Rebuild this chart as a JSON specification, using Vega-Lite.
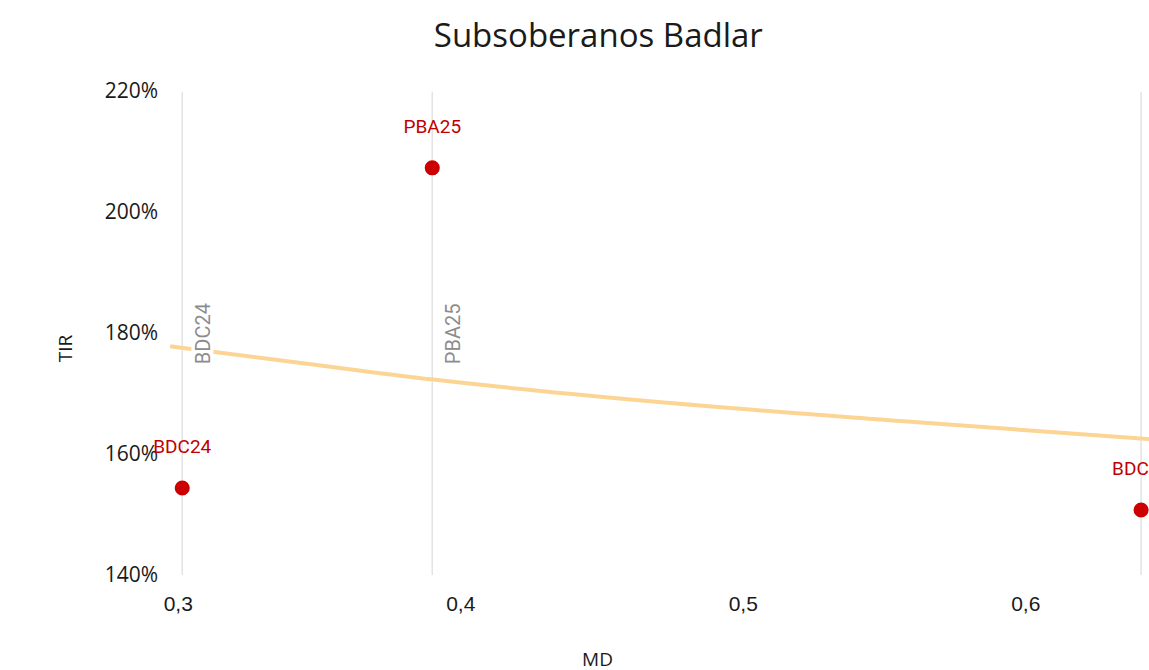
{
  "$schema": "https://vega.github.io/schema/vega-lite/v6.json",
  "autosize": {"type": "none"},
  "padding": {"left": 163.6, "top": 91.7, "right": 0, "bottom": 95},
  "width": 985.4,
  "height": 483.3,
  "background": "white",
  "title": {"text": "Subsoberanos Badlar", "font": "Open Sans", "fontSize": 33, "fontWeight": "normal", "color": "#1a1a1a", "anchor": "middle", "dx": -58, "offset": 27},
  "config": {"view": {"stroke": null}, "axis": {"grid": false, "domain": false, "ticks": false}},
  "datasets": {
    "bonds": [
      {"bono": "BDC24", "md": 0.3016, "tir": 1.544},
      {"bono": "PBA25", "md": 0.3901, "tir": 2.074},
      {"bono": "BDC28", "md": 0.641, "tir": 1.5076}
    ],
    "trend": [
      {"md": 0.2973, "tir": 1.7785},
      {"md": 0.3409, "tir": 1.7526},
      {"md": 0.3905, "tir": 1.7235},
      {"md": 0.4672, "tir": 1.6876},
      {"md": 0.5557, "tir": 1.655},
      {"md": 0.6438, "tir": 1.6248}
    ]
  },
  "encoding": {
    "x": {"field": "md", "type": "quantitative", "scale": {"domain": [0.295, 0.6438], "nice": false, "zero": false},
      "axis": {"values": [0.3, 0.4, 0.5, 0.6], "labelExpr": "replace(format(datum.value,'.1f'),'.',',')", "labelFont": "Liberation Sans", "labelFontSize": 21, "labelColor": "#1a1a1a", "labelPadding": 18, "labelFlush": false, "labelOverlap": false,
        "title": "MD", "titleFont": "Open Sans", "titleFontSize": 19, "titleFontWeight": "normal", "titleColor": "#1a1a1a", "titleX": 433.4, "titleY": 84, "titleBaseline": "middle", "titleAlign": "center"}},
    "y": {"field": "tir", "type": "quantitative", "scale": {"domain": [1.4, 2.2], "nice": false, "zero": false},
      "axis": {"values": [1.4, 1.6, 1.8, 2.0, 2.2], "format": ".0%", "labelFont": "Open Sans", "labelFontSize": 21, "labelColor": "#1a1a1a", "labelPadding": 6, "labelFlush": false,
        "title": "TIR", "titleFont": "Open Sans", "titleFontSize": 19, "titleFontWeight": "normal", "titleColor": "#1a1a1a", "titleX": -98.6, "titleY": 256.3, "titleAngle": 270, "titleBaseline": "middle", "titleAlign": "center"}}
  },
  "layer": [
    {
      "data": {"name": "bonds"},
      "mark": {"type": "rule", "color": "#e3e3e3", "strokeWidth": 1.5},
      "encoding": {"y": {"datum": 1.4}, "y2": {"datum": 2.2}}
    },
    {
      "data": {"name": "trend"},
      "mark": {"type": "line", "color": "#fcd595", "strokeWidth": 4, "interpolate": "monotone"},
      "encoding": {}
    },
    {
      "data": {"name": "bonds"},
      "mark": {"type": "text", "angle": 270, "align": "left", "baseline": "top", "dy": 12, "font": "Roboto", "fontSize": 20, "fill": "white", "stroke": "white", "strokeWidth": 7},
      "encoding": {"y": {"datum": 1.749}, "text": {"field": "bono"}}
    },
    {
      "data": {"name": "bonds"},
      "mark": {"type": "text", "angle": 270, "align": "left", "baseline": "top", "dy": 12, "font": "Roboto", "fontSize": 20, "color": "#8c8c8c"},
      "encoding": {"y": {"datum": 1.749}, "text": {"field": "bono"}}
    },
    {
      "data": {"name": "bonds"},
      "mark": {"type": "circle", "size": 227, "color": "#cc0000", "opacity": 1},
      "encoding": {}
    },
    {
      "data": {"name": "bonds"},
      "mark": {"type": "text", "baseline": "alphabetic", "dy": -35, "font": "Roboto", "fontSize": 19, "color": "#c00000"},
      "encoding": {"text": {"field": "bono"}}
    }
  ]
}
